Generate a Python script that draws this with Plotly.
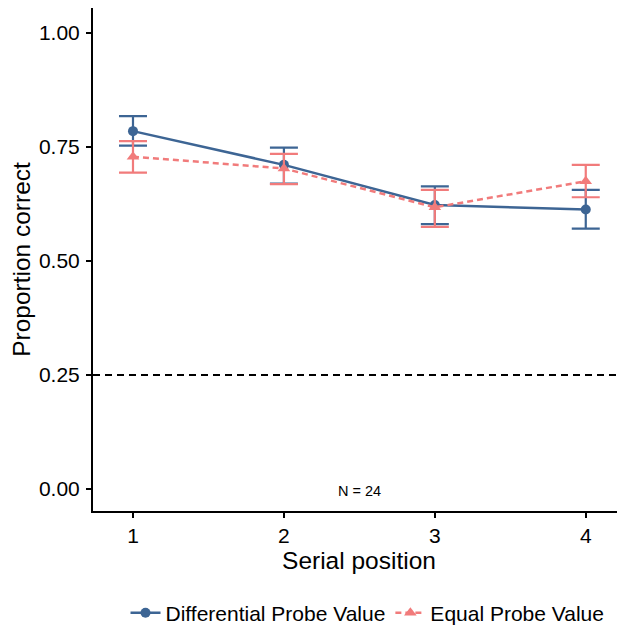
import plotly.graph_objects as go

positions = [1, 2, 3, 4]
tick_labels = ["1", "2", "3", "4"]

diff_name = "Differential Probe Value"
diff_mean = [0.785, 0.711, 0.623, 0.613]
diff_hi = [0.818, 0.749, 0.664, 0.656]
diff_lo = [0.753, 0.670, 0.581, 0.571]

equal_name = "Equal Probe Value"
equal_mean = [0.729, 0.703, 0.618, 0.675]
equal_hi = [0.763, 0.735, 0.656, 0.711]
equal_lo = [0.694, 0.669, 0.575, 0.640]

chance = 0.25
y_ticks = [0.0, 0.25, 0.5, 0.75, 1.0]
y_tick_labels = ["0.00", "0.25", "0.50", "0.75", "1.00"]
note = "N = 24"

BLUE = "#3D6594"
RED = "#F17B7B"
FONT = "Liberation Sans, Arial, sans-serif"

fig = go.Figure()

def add_series(name, mean, hi, lo, color, symbol, dash, msize):
    fig.add_trace(go.Scatter(
        x=positions, y=mean, name=name, mode="lines+markers",
        line=dict(color=color, width=2.5, dash=dash),
        marker=dict(color=color, size=msize, symbol=symbol),
        error_y=dict(type="data", symmetric=False,
                     array=[h - m for h, m in zip(hi, mean)],
                     arrayminus=[m - l for m, l in zip(mean, lo)],
                     color=color, thickness=2.2, width=14),
    ))

add_series(diff_name, diff_mean, diff_hi, diff_lo, BLUE, "circle", "solid", 10)
add_series(equal_name, equal_mean, equal_hi, equal_lo, RED, "triangle-up", "6px,4px", 11)

fig.add_hline(y=chance, line=dict(color="black", width=2, dash="7px,5px"), layer="below")

fig.add_annotation(x=2.5, y=-0.004, text=note, showarrow=False,
                   font=dict(size=14.5, color="black", family=FONT))

fig.update_layout(
    width=617, height=617,
    paper_bgcolor="white", plot_bgcolor="white",
    margin=dict(l=85, r=0, t=0, b=114, autoexpand=False),
    font=dict(family=FONT, color="black"),
    showlegend=True,
    legend=dict(orientation="h", x=0.516, xanchor="center", y=-0.203, yanchor="middle",
                font=dict(size=21, color="black"), traceorder="normal"),
    xaxis=dict(range=[0.735, 4.26], tickvals=positions, ticktext=tick_labels,
               showgrid=False, zeroline=False, showline=True, linecolor="black",
               linewidth=2, ticks="outside", ticklen=5, tickwidth=1.5, tickcolor="black",
               tickfont=dict(size=21, color="black"), automargin=False,
               title=dict(text="Serial position", font=dict(size=24.5, color="black"), standoff=4)),
    yaxis=dict(range=[-0.048, 1.055], tickvals=y_ticks, ticktext=y_tick_labels,
               showgrid=False, zeroline=False, showline=True, linecolor="black",
               linewidth=2, ticks="outside", ticklen=5, tickwidth=1.5, tickcolor="black",
               tickfont=dict(size=21, color="black"), automargin=False, ticklabelstandoff=2,
               title=dict(text="Proportion correct", font=dict(size=24.5, color="black"), standoff=6)),
)

fig.write_html("out.html")
